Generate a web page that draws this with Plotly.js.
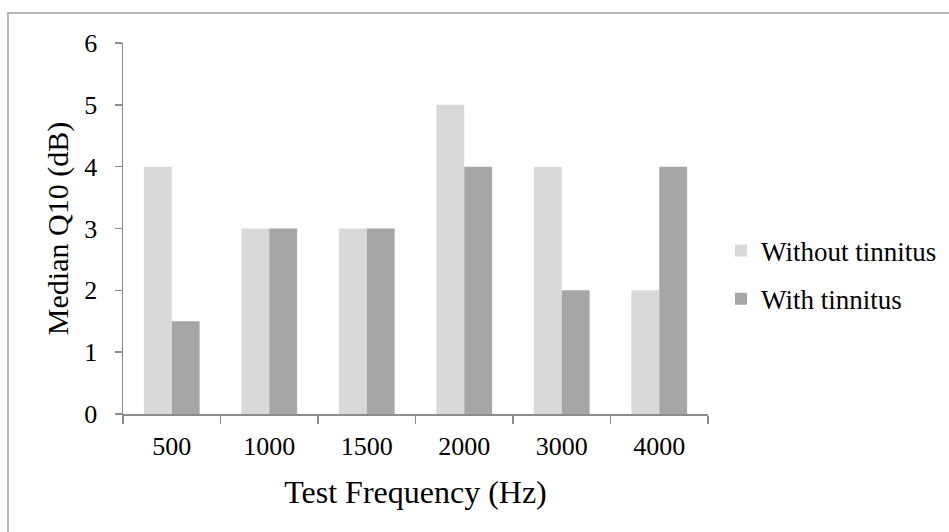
<!DOCTYPE html>
<html>
<head>
<meta charset="utf-8">
<script src="https://cdn.plot.ly/plotly-3.0.1.min.js"></script>
<style>
html,body{margin:0;padding:0;background:#fff;}
#chart{width:949px;height:532px;}
</style>
</head>
<body>
<div id="chart"></div>
<script>
const categories = ["500", "1000", "1500", "2000", "3000", "4000"];
const withoutTinnitus = [4, 3, 3, 5, 4, 2];
const withTinnitus = [1.5, 3, 3, 4, 2, 4];
const seriesNames = ["Without tinnitus", "With tinnitus"];

const font = "Liberation Serif, Times New Roman, serif";
const axisColor = "#8c8c8c";

const traces = [
  {type: "bar", x: categories, y: withoutTinnitus, name: seriesNames[0],
   marker: {color: "#d9d9d9"}, legendgroup: "a", hoverinfo: "y"},
  {type: "bar", x: categories, y: withTinnitus, name: seriesNames[1],
   marker: {color: "#a6a6a6"}, legendgroup: "b", hoverinfo: "y"}
];

const layout = {
  width: 949, height: 532,
  margin: {l: 123, r: 241, t: 43, b: 118},
  paper_bgcolor: "#fff", plot_bgcolor: "#fff",
  font: {family: font, color: "#000", size: 26},
  barmode: "group",
  bargap: 0.4286,
  bargroupgap: 0,
  xaxis: {
    type: "category",
    showline: true, linecolor: axisColor, linewidth: 1.5,
    ticks: "outside", tickson: "boundaries", ticklen: 8, tickcolor: axisColor, tickwidth: 1.5,
    showgrid: false, zeroline: false,
    tickfont: {family: font, size: 26},
    ticklabelstandoff: 8,
    title: {text: "Test Frequency (Hz)", font: {family: font, size: 32}, standoff: 21}
  },
  yaxis: {
    range: [0, 6], dtick: 1,
    showline: true, linecolor: axisColor, linewidth: 1.5,
    ticks: "outside", ticklen: 7, tickcolor: axisColor, tickwidth: 1.5,
    showgrid: false, zeroline: false,
    tickfont: {family: font, size: 26},
    ticklabelstandoff: 12,
    title: {text: "Median Q10 (dB)", font: {family: font, size: 30}, standoff: 7}
  },
  legend: {
    x: 721 / 949, xref: "container", xanchor: "left",
    y: (414 - 275) / 371, yanchor: "middle",
    font: {family: font, size: 27},
    traceorder: "grouped", tracegroupgap: 10,
    bgcolor: "rgba(0,0,0,0)"
  },
  shapes: [{
    type: "rect", xref: "paper", yref: "paper",
    x0: (8 - 123) / 585, x1: (1000 - 123) / 585,
    y0: (414 - 600) / 371, y1: (414 - 13) / 371,
    line: {color: "#a0a0a0", width: 1.5}, fillcolor: "rgba(0,0,0,0)", layer: "below"
  }],
  showlegend: true
};

Plotly.newPlot("chart", traces, layout, {displayModeBar: false, staticPlot: true});
</script>
</body>
</html>
